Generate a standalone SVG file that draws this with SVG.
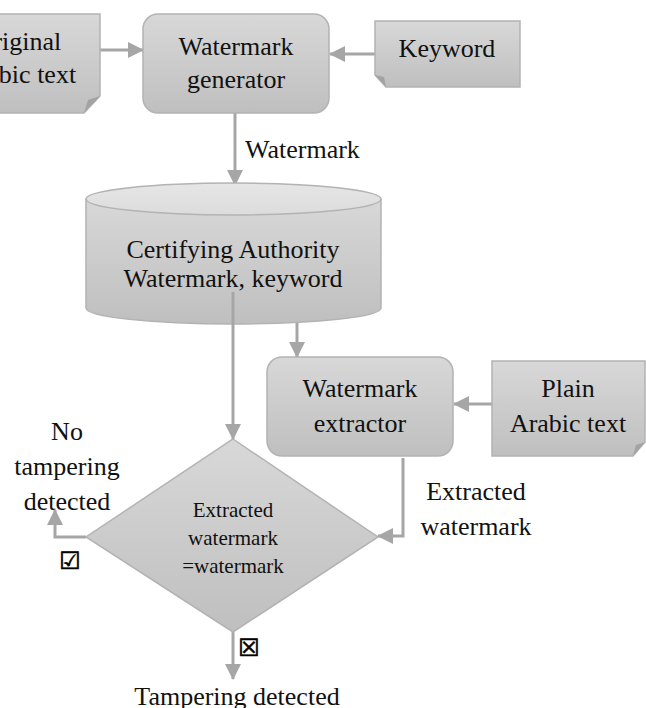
<svg xmlns="http://www.w3.org/2000/svg" width="646" height="708" viewBox="0 0 646 708">
<defs>
<linearGradient id="g" x1="0" y1="0" x2="0" y2="1">
<stop offset="0" stop-color="#d8d8d8"/>
<stop offset="1" stop-color="#bfbfbf"/>
</linearGradient>
<linearGradient id="gc" x1="0" y1="0" x2="0" y2="1">
<stop offset="0" stop-color="#e6e6e6"/>
<stop offset="1" stop-color="#dcdcdc"/>
</linearGradient>
<marker id="ah" markerUnits="userSpaceOnUse" markerWidth="16" markerHeight="16" viewBox="0 0 16 16" refX="15" refY="8" orient="auto">
<path d="M0,0 L16,8 L0,16 Z" fill="#a6a6a6"/>
</marker>
<style>
.sh{fill:url(#g);stroke:#b3b3b3;stroke-width:1.5}
.fold{fill:#a3a3a3;stroke:none}
.t{font-family:"Liberation Serif","Times New Roman",serif;font-size:26px;fill:#111;text-anchor:middle}
.ts{font-size:21px}
.c{stroke:#a6a6a6;stroke-width:3;fill:none}
.sym{font-family:"DejaVu Sans",sans-serif;font-size:24px;font-weight:bold;fill:#000;stroke:#000;stroke-width:0.6;text-anchor:middle}
</style>
</defs>

<g id="connectors">
<line class="c" x1="100" y1="50" x2="143" y2="50" marker-end="url(#ah)"/>
<line class="c" x1="375" y1="54" x2="330" y2="54" marker-end="url(#ah)"/>
<line class="c" x1="235" y1="113" x2="235" y2="185" marker-end="url(#ah)"/>
<line class="c" x1="297" y1="292" x2="297" y2="357" marker-end="url(#ah)"/>
<line class="c" x1="492" y1="404" x2="454" y2="404" marker-end="url(#ah)"/>
<path class="c" d="M403,458 V536 H378" marker-end="url(#ah)"/>
<path class="c" d="M86,537 H55 V510" marker-end="url(#ah)"/>
<line class="c" x1="233" y1="632" x2="233" y2="679" marker-end="url(#ah)"/>
</g>

<g id="original">
<path class="sh" d="M-40,14 H100 V96 L84,113 H-40 Z"/>
<path class="fold" d="M100,96 L84,113 L88,100 Z"/>
<text class="t" x="18" y="50">Original</text>
<text class="t" x="18" y="83">Arabic text</text>
</g>

<g id="generator">
<rect class="sh" x="143" y="14" width="186" height="99" rx="15"/>
<text class="t" x="236" y="55">Watermark</text>
<text class="t" x="236" y="88">generator</text>
</g>

<g id="keyword">
<path class="sh" d="M375,21 H520 V87 H386 L375,75 Z"/>
<path class="fold" d="M375,75 L386,87 L384,77 Z"/>
<text class="t" x="447" y="57">Keyword</text>
</g>

<g id="authority">
<path class="sh" d="M86,199 V308 A147.5,16 0 0 0 381,308 V199"/>
<ellipse cx="233.5" cy="199" rx="147.5" ry="16" fill="url(#gc)" stroke="#b3b3b3" stroke-width="1.5"/>
<text class="t" x="233" y="258">Certifying Authority</text>
<text class="t" x="233" y="287">Watermark, keyword</text>
</g>

<line class="c" x1="233" y1="292" x2="233" y2="439" marker-end="url(#ah)"/>

<g id="extractor">
<rect class="sh" x="267" y="357" width="186" height="99" rx="15"/>
<text class="t" x="360" y="397">Watermark</text>
<text class="t" x="360" y="432">extractor</text>
</g>

<g id="plain">
<path class="sh" d="M492,361 H645 V442 L633,456 H492 Z"/>
<path class="fold" d="M645,442 L633,456 L636,445 Z"/>
<text class="t" x="568" y="397">Plain</text>
<text class="t" x="568" y="432">Arabic text</text>
</g>

<g id="decision">
<path class="sh" d="M233,439 L378,537 L233,632 L86,537 Z"/>
<text class="t ts" x="233" y="517">Extracted</text>
<text class="t ts" x="233" y="545">watermark</text>
<text class="t ts" x="233" y="573">=watermark</text>
</g>

<g id="labels">
<text class="t" x="245" y="158" style="text-anchor:start">Watermark</text>
<text class="t" x="476" y="500">Extracted</text>
<text class="t" x="476" y="535">watermark</text>
<text class="t" x="67" y="440">No</text>
<text class="t" x="67" y="475">tampering</text>
<text class="t" x="67" y="510">detected</text>
<text class="t" x="237" y="705">Tampering detected</text>
<text class="sym" x="70" y="569">☑</text>
<text class="sym" x="249" y="656">☒</text>
</g>
</svg>
